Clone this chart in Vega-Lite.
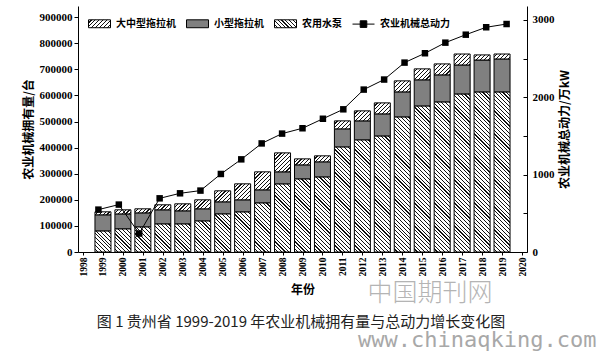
{
  "$schema": "https://vega.github.io/schema/vega-lite/v6.json",
  "width": 449,
  "height": 246,
  "autosize": {"type": "none"},
  "padding": {"left": 78, "top": 6, "right": 72, "bottom": 100},
  "background": "white",
  "config": {
    "view": {"stroke": null},
    "axis": {
      "grid": false,
      "domainColor": "black",
      "domainWidth": 1,
      "tickColor": "black",
      "labelColor": "black",
      "titleColor": "black",
      "labelFont": "Liberation Serif",
      "labelFontWeight": "bold",
      "titleFont": "Noto Sans CJK SC",
      "titleFontWeight": "bold"
    }
  },
  "params": [
    {
      "name": "hatch",
      "value": [
        {"offset": 0, "color": "#fff"},
        {"offset": 0.014, "color": "#fff"}, {"offset": 0.014, "color": "#111"}, {"offset": 0.02, "color": "#111"}, {"offset": 0.02, "color": "#fff"},
        {"offset": 0.034, "color": "#fff"}, {"offset": 0.034, "color": "#111"}, {"offset": 0.04, "color": "#111"}, {"offset": 0.04, "color": "#fff"},
        {"offset": 0.054, "color": "#fff"}, {"offset": 0.054, "color": "#111"}, {"offset": 0.06, "color": "#111"}, {"offset": 0.06, "color": "#fff"},
        {"offset": 0.074, "color": "#fff"}, {"offset": 0.074, "color": "#111"}, {"offset": 0.08, "color": "#111"}, {"offset": 0.08, "color": "#fff"},
        {"offset": 0.094, "color": "#fff"}, {"offset": 0.094, "color": "#111"}, {"offset": 0.1, "color": "#111"}, {"offset": 0.1, "color": "#fff"},
        {"offset": 0.114, "color": "#fff"}, {"offset": 0.114, "color": "#111"}, {"offset": 0.12, "color": "#111"}, {"offset": 0.12, "color": "#fff"},
        {"offset": 0.134, "color": "#fff"}, {"offset": 0.134, "color": "#111"}, {"offset": 0.14, "color": "#111"}, {"offset": 0.14, "color": "#fff"},
        {"offset": 0.154, "color": "#fff"}, {"offset": 0.154, "color": "#111"}, {"offset": 0.16, "color": "#111"}, {"offset": 0.16, "color": "#fff"},
        {"offset": 0.174, "color": "#fff"}, {"offset": 0.174, "color": "#111"}, {"offset": 0.18, "color": "#111"}, {"offset": 0.18, "color": "#fff"},
        {"offset": 0.194, "color": "#fff"}, {"offset": 0.194, "color": "#111"}, {"offset": 0.2, "color": "#111"}, {"offset": 0.2, "color": "#fff"},
        {"offset": 0.214, "color": "#fff"}, {"offset": 0.214, "color": "#111"}, {"offset": 0.22, "color": "#111"}, {"offset": 0.22, "color": "#fff"},
        {"offset": 0.234, "color": "#fff"}, {"offset": 0.234, "color": "#111"}, {"offset": 0.24, "color": "#111"}, {"offset": 0.24, "color": "#fff"},
        {"offset": 0.254, "color": "#fff"}, {"offset": 0.254, "color": "#111"}, {"offset": 0.26, "color": "#111"}, {"offset": 0.26, "color": "#fff"},
        {"offset": 0.274, "color": "#fff"}, {"offset": 0.274, "color": "#111"}, {"offset": 0.28, "color": "#111"}, {"offset": 0.28, "color": "#fff"},
        {"offset": 0.294, "color": "#fff"}, {"offset": 0.294, "color": "#111"}, {"offset": 0.3, "color": "#111"}, {"offset": 0.3, "color": "#fff"},
        {"offset": 0.314, "color": "#fff"}, {"offset": 0.314, "color": "#111"}, {"offset": 0.32, "color": "#111"}, {"offset": 0.32, "color": "#fff"},
        {"offset": 0.334, "color": "#fff"}, {"offset": 0.334, "color": "#111"}, {"offset": 0.34, "color": "#111"}, {"offset": 0.34, "color": "#fff"},
        {"offset": 0.354, "color": "#fff"}, {"offset": 0.354, "color": "#111"}, {"offset": 0.36, "color": "#111"}, {"offset": 0.36, "color": "#fff"},
        {"offset": 0.374, "color": "#fff"}, {"offset": 0.374, "color": "#111"}, {"offset": 0.38, "color": "#111"}, {"offset": 0.38, "color": "#fff"},
        {"offset": 0.394, "color": "#fff"}, {"offset": 0.394, "color": "#111"}, {"offset": 0.4, "color": "#111"}, {"offset": 0.4, "color": "#fff"},
        {"offset": 0.414, "color": "#fff"}, {"offset": 0.414, "color": "#111"}, {"offset": 0.42, "color": "#111"}, {"offset": 0.42, "color": "#fff"},
        {"offset": 0.434, "color": "#fff"}, {"offset": 0.434, "color": "#111"}, {"offset": 0.44, "color": "#111"}, {"offset": 0.44, "color": "#fff"},
        {"offset": 0.454, "color": "#fff"}, {"offset": 0.454, "color": "#111"}, {"offset": 0.46, "color": "#111"}, {"offset": 0.46, "color": "#fff"},
        {"offset": 0.474, "color": "#fff"}, {"offset": 0.474, "color": "#111"}, {"offset": 0.48, "color": "#111"}, {"offset": 0.48, "color": "#fff"},
        {"offset": 0.494, "color": "#fff"}, {"offset": 0.494, "color": "#111"}, {"offset": 0.5, "color": "#111"}, {"offset": 0.5, "color": "#fff"},
        {"offset": 0.514, "color": "#fff"}, {"offset": 0.514, "color": "#111"}, {"offset": 0.52, "color": "#111"}, {"offset": 0.52, "color": "#fff"},
        {"offset": 0.534, "color": "#fff"}, {"offset": 0.534, "color": "#111"}, {"offset": 0.54, "color": "#111"}, {"offset": 0.54, "color": "#fff"},
        {"offset": 0.554, "color": "#fff"}, {"offset": 0.554, "color": "#111"}, {"offset": 0.56, "color": "#111"}, {"offset": 0.56, "color": "#fff"},
        {"offset": 0.574, "color": "#fff"}, {"offset": 0.574, "color": "#111"}, {"offset": 0.58, "color": "#111"}, {"offset": 0.58, "color": "#fff"},
        {"offset": 0.594, "color": "#fff"}, {"offset": 0.594, "color": "#111"}, {"offset": 0.6, "color": "#111"}, {"offset": 0.6, "color": "#fff"},
        {"offset": 0.614, "color": "#fff"}, {"offset": 0.614, "color": "#111"}, {"offset": 0.62, "color": "#111"}, {"offset": 0.62, "color": "#fff"},
        {"offset": 0.634, "color": "#fff"}, {"offset": 0.634, "color": "#111"}, {"offset": 0.64, "color": "#111"}, {"offset": 0.64, "color": "#fff"},
        {"offset": 0.654, "color": "#fff"}, {"offset": 0.654, "color": "#111"}, {"offset": 0.66, "color": "#111"}, {"offset": 0.66, "color": "#fff"},
        {"offset": 0.674, "color": "#fff"}, {"offset": 0.674, "color": "#111"}, {"offset": 0.68, "color": "#111"}, {"offset": 0.68, "color": "#fff"},
        {"offset": 0.694, "color": "#fff"}, {"offset": 0.694, "color": "#111"}, {"offset": 0.7, "color": "#111"}, {"offset": 0.7, "color": "#fff"},
        {"offset": 0.714, "color": "#fff"}, {"offset": 0.714, "color": "#111"}, {"offset": 0.72, "color": "#111"}, {"offset": 0.72, "color": "#fff"},
        {"offset": 0.734, "color": "#fff"}, {"offset": 0.734, "color": "#111"}, {"offset": 0.74, "color": "#111"}, {"offset": 0.74, "color": "#fff"},
        {"offset": 0.754, "color": "#fff"}, {"offset": 0.754, "color": "#111"}, {"offset": 0.76, "color": "#111"}, {"offset": 0.76, "color": "#fff"},
        {"offset": 0.774, "color": "#fff"}, {"offset": 0.774, "color": "#111"}, {"offset": 0.78, "color": "#111"}, {"offset": 0.78, "color": "#fff"},
        {"offset": 0.794, "color": "#fff"}, {"offset": 0.794, "color": "#111"}, {"offset": 0.8, "color": "#111"}, {"offset": 0.8, "color": "#fff"},
        {"offset": 0.814, "color": "#fff"}, {"offset": 0.814, "color": "#111"}, {"offset": 0.82, "color": "#111"}, {"offset": 0.82, "color": "#fff"},
        {"offset": 0.834, "color": "#fff"}, {"offset": 0.834, "color": "#111"}, {"offset": 0.84, "color": "#111"}, {"offset": 0.84, "color": "#fff"},
        {"offset": 0.854, "color": "#fff"}, {"offset": 0.854, "color": "#111"}, {"offset": 0.86, "color": "#111"}, {"offset": 0.86, "color": "#fff"},
        {"offset": 0.874, "color": "#fff"}, {"offset": 0.874, "color": "#111"}, {"offset": 0.88, "color": "#111"}, {"offset": 0.88, "color": "#fff"},
        {"offset": 0.894, "color": "#fff"}, {"offset": 0.894, "color": "#111"}, {"offset": 0.9, "color": "#111"}, {"offset": 0.9, "color": "#fff"},
        {"offset": 0.914, "color": "#fff"}, {"offset": 0.914, "color": "#111"}, {"offset": 0.92, "color": "#111"}, {"offset": 0.92, "color": "#fff"},
        {"offset": 0.934, "color": "#fff"}, {"offset": 0.934, "color": "#111"}, {"offset": 0.94, "color": "#111"}, {"offset": 0.94, "color": "#fff"},
        {"offset": 0.954, "color": "#fff"}, {"offset": 0.954, "color": "#111"}, {"offset": 0.96, "color": "#111"}, {"offset": 0.96, "color": "#fff"},
        {"offset": 0.974, "color": "#fff"}, {"offset": 0.974, "color": "#111"}, {"offset": 0.98, "color": "#111"}, {"offset": 0.98, "color": "#fff"},
        {"offset": 0.994, "color": "#fff"}, {"offset": 0.994, "color": "#111"}, {"offset": 1, "color": "#111"}
      ]
    }
  ],
  "datasets": {
    "machines": [
      {"year": 1999, "series": "农用水泵", "qty": 81000}, {"year": 1999, "series": "小型拖拉机", "qty": 61500}, {"year": 1999, "series": "大中型拖拉机", "qty": 11500},
      {"year": 2000, "series": "农用水泵", "qty": 89000}, {"year": 2000, "series": "小型拖拉机", "qty": 57000}, {"year": 2000, "series": "大中型拖拉机", "qty": 15700},
      {"year": 2001, "series": "农用水泵", "qty": 96500}, {"year": 2001, "series": "小型拖拉机", "qty": 53500}, {"year": 2001, "series": "大中型拖拉机", "qty": 15500},
      {"year": 2002, "series": "农用水泵", "qty": 108000}, {"year": 2002, "series": "小型拖拉机", "qty": 53700}, {"year": 2002, "series": "大中型拖拉机", "qty": 19300},
      {"year": 2003, "series": "农用水泵", "qty": 108000}, {"year": 2003, "series": "小型拖拉机", "qty": 49800}, {"year": 2003, "series": "大中型拖拉机", "qty": 26900},
      {"year": 2004, "series": "农用水泵", "qty": 119500}, {"year": 2004, "series": "小型拖拉机", "qty": 46000}, {"year": 2004, "series": "大中型拖拉机", "qty": 34500},
      {"year": 2005, "series": "农用水泵", "qty": 146400}, {"year": 2005, "series": "小型拖拉机", "qty": 45900}, {"year": 2005, "series": "大中型拖拉机", "qty": 42200},
      {"year": 2006, "series": "农用水泵", "qty": 154000}, {"year": 2006, "series": "小型拖拉机", "qty": 46000}, {"year": 2006, "series": "大中型拖拉机", "qty": 61300},
      {"year": 2007, "series": "农用水泵", "qty": 188500}, {"year": 2007, "series": "小型拖拉机", "qty": 49800}, {"year": 2007, "series": "大中型拖拉机", "qty": 69000},
      {"year": 2008, "series": "农用水泵", "qty": 261300}, {"year": 2008, "series": "小型拖拉机", "qty": 46000}, {"year": 2008, "series": "大中型拖拉机", "qty": 72700},
      {"year": 2009, "series": "农用水泵", "qty": 280500}, {"year": 2009, "series": "小型拖拉机", "qty": 53500}, {"year": 2009, "series": "大中型拖拉机", "qty": 23000},
      {"year": 2010, "series": "农用水泵", "qty": 288000}, {"year": 2010, "series": "小型拖拉机", "qty": 57600}, {"year": 2010, "series": "大中型拖拉机", "qty": 23000},
      {"year": 2011, "series": "农用水泵", "qty": 403000}, {"year": 2011, "series": "小型拖拉机", "qty": 69000}, {"year": 2011, "series": "大中型拖拉机", "qty": 30700},
      {"year": 2012, "series": "农用水泵", "qty": 430000}, {"year": 2012, "series": "小型拖拉机", "qty": 72700}, {"year": 2012, "series": "大中型拖拉机", "qty": 38300},
      {"year": 2013, "series": "农用水泵", "qty": 445000}, {"year": 2013, "series": "小型拖拉机", "qty": 84500}, {"year": 2013, "series": "大中型拖拉机", "qty": 42100},
      {"year": 2014, "series": "农用水泵", "qty": 518000}, {"year": 2014, "series": "小型拖拉机", "qty": 95800}, {"year": 2014, "series": "大中型拖拉机", "qty": 42200},
      {"year": 2015, "series": "农用水泵", "qty": 560000}, {"year": 2015, "series": "小型拖拉机", "qty": 100000}, {"year": 2015, "series": "大中型拖拉机", "qty": 42000},
      {"year": 2016, "series": "农用水泵", "qty": 575500}, {"year": 2016, "series": "小型拖拉机", "qty": 103500}, {"year": 2016, "series": "大中型拖拉机", "qty": 42000},
      {"year": 2017, "series": "农用水泵", "qty": 606000}, {"year": 2017, "series": "小型拖拉机", "qty": 111000}, {"year": 2017, "series": "大中型拖拉机", "qty": 42000},
      {"year": 2018, "series": "农用水泵", "qty": 613800}, {"year": 2018, "series": "小型拖拉机", "qty": 122200}, {"year": 2018, "series": "大中型拖拉机", "qty": 19500},
      {"year": 2019, "series": "农用水泵", "qty": 613800}, {"year": 2019, "series": "小型拖拉机", "qty": 126200}, {"year": 2019, "series": "大中型拖拉机", "qty": 19000}
    ],
    "power": [
      {"year": 1999, "power": 548}, {"year": 2000, "power": 613}, {"year": 2001, "power": 239},
      {"year": 2002, "power": 694}, {"year": 2003, "power": 759}, {"year": 2004, "power": 794},
      {"year": 2005, "power": 1009}, {"year": 2006, "power": 1198}, {"year": 2007, "power": 1404},
      {"year": 2008, "power": 1531}, {"year": 2009, "power": 1600}, {"year": 2010, "power": 1723},
      {"year": 2011, "power": 1845}, {"year": 2012, "power": 2100}, {"year": 2013, "power": 2230},
      {"year": 2014, "power": 2449}, {"year": 2015, "power": 2570}, {"year": 2016, "power": 2707},
      {"year": 2017, "power": 2810}, {"year": 2018, "power": 2906}, {"year": 2019, "power": 2948}
    ]
  },
  "layer": [
    {
      "data": {"name": "machines"},
      "transform": [{"window": [{"op": "row_number", "as": "stackIdx"}], "groupby": ["year"]}],
      "mark": {
        "type": "bar",
        "size": 16,
        "stroke": "black",
        "strokeWidth": 1,
        "fill": {"expr": "datum.series === '农用水泵' ? {gradient: 'linear', x1: 0, y1: 1, x2: 3072 / (256 + pow((datum.qty_end - datum.qty_start) * 246 / 943000, 2)), y2: 1 - 192 * ((datum.qty_end - datum.qty_start) * 246 / 943000) / (256 + pow((datum.qty_end - datum.qty_start) * 246 / 943000, 2)), stops: hatch} : datum.series === '大中型拖拉机' ? {gradient: 'linear', x1: 0, y1: 0, x2: 3072 / (256 + pow((datum.qty_end - datum.qty_start) * 246 / 943000, 2)), y2: 192 * ((datum.qty_end - datum.qty_start) * 246 / 943000) / (256 + pow((datum.qty_end - datum.qty_start) * 246 / 943000, 2)), stops: hatch} : '#808080'"}
      },
      "encoding": {
        "x": {
          "field": "year",
          "type": "quantitative",
          "scale": {"domain": [1998, 2020], "nice": false, "zero": false},
          "axis": {
            "values": [1998, 1999, 2000, 2001, 2002, 2003, 2004, 2005, 2006, 2007, 2008, 2009, 2010, 2011, 2012, 2013, 2014, 2015, 2016, 2017, 2018, 2019, 2020],
            "format": "d",
            "labelAngle": 270,
            "labelFontSize": 9.5,
            "tickSize": 3,
            "labelPadding": 2,
            "title": "年份",
            "titleFontSize": 12,
            "titlePadding": 8
          }
        },
        "y": {
          "field": "qty",
          "type": "quantitative",
          "stack": "zero",
          "scale": {"domain": [0, 943000], "nice": false},
          "axis": {
            "orient": "left",
            "values": [0, 100000, 200000, 300000, 400000, 500000, 600000, 700000, 800000, 900000],
            "format": "d",
            "labelFontSize": 11,
            "tickSize": 4,
            "labelPadding": 2,
            "title": "农业机械拥有量/台",
            "titleFontSize": 12,
            "titlePadding": 4
          }
        },
        "detail": {"field": "series"},
        "order": {"field": "stackIdx", "type": "quantitative", "sort": "ascending"}
      }
    },
    {
      "data": {"name": "power"},
      "layer": [
        {
          "mark": {"type": "line", "stroke": "black", "strokeWidth": 1}
        },
        {
          "mark": {"type": "point", "shape": "square", "size": 42, "filled": true, "fill": "black", "stroke": null, "opacity": 1}
        }
      ],
      "encoding": {
        "x": {
          "field": "year",
          "type": "quantitative",
          "scale": {"domain": [1998, 2020], "nice": false, "zero": false},
          "axis": null
        },
        "y": {
          "field": "power",
          "type": "quantitative",
          "scale": {"domain": [0, 3181], "nice": false},
          "axis": {
            "orient": "right",
            "values": [0, 500, 1000, 1500, 2000, 2500, 3000],
            "labelExpr": "datum.value % 1000 === 0 ? datum.label : ''",
            "format": "d",
            "labelFontSize": 11,
            "tickSize": -4,
            "labelPadding": 9,
            "title": "农业机械总动力/万kW",
            "titleAngle": 270,
            "titleFontSize": 12,
            "titlePadding": 17
          }
        }
      }
    },
    {
      "data": {"values": [{"label": "中国期刊网", "year": 2015.25, "qty": -157000}]},
      "layer": [
        {
          "mark": {"type": "text", "text": "中国期刊网", "font": "Noto Sans CJK SC", "fontWeight": 300, "fontSize": 25, "color": "#b4b4b4", "align": "center", "baseline": "middle"},
          "encoding": {
            "x": {"datum": 2015.25, "type": "quantitative", "scale": {"domain": [1998, 2020], "nice": false, "zero": false}, "axis": null},
            "y": {"datum": -157000, "type": "quantitative", "scale": {"domain": [0, 943000], "nice": false}, "axis": null}
          }
        },
        {
          "mark": {"type": "text", "text": "www.chinaqking.com", "font": "DejaVu Sans Mono", "fontSize": 22, "color": "#a8a8a8", "align": "left", "baseline": "middle"},
          "encoding": {
            "x": {"datum": 2011.72, "type": "quantitative", "scale": {"domain": [1998, 2020], "nice": false, "zero": false}, "axis": null},
            "y": {"datum": -337000, "type": "quantitative", "scale": {"domain": [0, 943000], "nice": false}, "axis": null}
          }
        },
        {
          "mark": {"type": "text", "text": "图 1  贵州省 1999-2019 年农业机械拥有量与总动力增长变化图", "font": "Noto Sans CJK SC", "fontWeight": "normal", "fontSize": 15, "color": "#222", "align": "center", "baseline": "middle"},
          "encoding": {
            "x": {"datum": 2008.93, "type": "quantitative", "scale": {"domain": [1998, 2020], "nice": false, "zero": false}, "axis": null},
            "y": {"datum": -268000, "type": "quantitative", "scale": {"domain": [0, 943000], "nice": false}, "axis": null}
          }
        }
      ]
    },
    {
      "data": {"values": [{"series": "大中型拖拉机"}]},
      "transform": [{"filter": "false"}],
      "mark": {"type": "point", "filled": true, "opacity": 1, "size": 484, "strokeWidth": 1},
      "encoding": {
        "fill": {
          "field": "series",
          "type": "nominal",
          "scale": {
            "domain": ["大中型拖拉机", "小型拖拉机", "农用水泵", "农业机械总动力"],
            "range": [
              {"expr": "{gradient: 'linear', x1: 0, y1: 0, x2: 7.726, y2: 2.781, stops: hatch}"},
              "#808080",
              {"expr": "{gradient: 'linear', x1: 0, y1: 1, x2: 7.726, y2: -1.781, stops: hatch}"},
              "black"
            ]
          },
          "legend": {
            "title": null,
            "orient": "none",
            "legendX": 10,
            "legendY": 6,
            "direction": "horizontal",
            "symbolSize": 484,
            "symbolStrokeWidth": 1,
            "labelOffset": 5,
            "columnPadding": 8,
            "padding": 0,
            "labelFont": "Noto Sans CJK SC",
            "labelFontSize": 10,
            "labelFontWeight": "bold",
            "labelColor": "black",
            "labelLimit": 200
          }
        },
        "stroke": {
          "field": "series",
          "type": "nominal",
          "scale": {
            "domain": ["大中型拖拉机", "小型拖拉机", "农用水泵", "农业机械总动力"],
            "range": ["black", "black", "black", "black"]
          },
          "legend": {
            "title": null,
            "orient": "none",
            "legendX": 10,
            "legendY": 6,
            "direction": "horizontal",
            "symbolSize": 484,
            "symbolStrokeWidth": 1,
            "labelOffset": 5,
            "columnPadding": 8,
            "padding": 0,
            "labelFont": "Noto Sans CJK SC",
            "labelFontSize": 10,
            "labelFontWeight": "bold",
            "labelColor": "black",
            "labelLimit": 200
          }
        },
        "shape": {
          "field": "series",
          "type": "nominal",
          "scale": {
            "domain": ["大中型拖拉机", "小型拖拉机", "农用水泵", "农业机械总动力"],
            "range": [
              "M-1,-0.36H1V0.36H-1Z",
              "M-1,-0.36H1V0.36H-1Z",
              "M-1,-0.36H1V0.36H-1Z",
              "M-1,0H1M-0.3,-0.3H0.3V0.3H-0.3Z"
            ]
          },
          "legend": {
            "title": null,
            "orient": "none",
            "legendX": 10,
            "legendY": 6,
            "direction": "horizontal",
            "symbolSize": 484,
            "symbolStrokeWidth": 1,
            "labelOffset": 5,
            "columnPadding": 8,
            "padding": 0,
            "labelFont": "Noto Sans CJK SC",
            "labelFontSize": 10,
            "labelFontWeight": "bold",
            "labelColor": "black",
            "labelLimit": 200
          }
        }
      }
    }
  ],
  "resolve": {"scale": {"x": "independent", "y": "independent"}}
}
